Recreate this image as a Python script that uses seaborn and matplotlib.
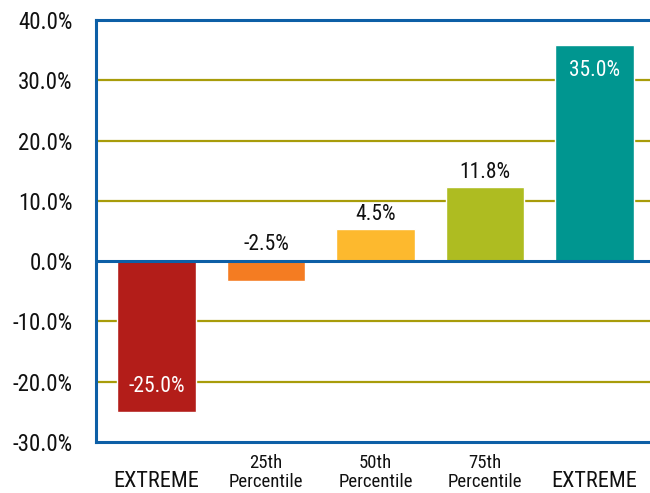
import matplotlib
matplotlib.use("Agg")
import matplotlib.pyplot as plt
import matplotlib.transforms as mtransforms
from matplotlib import font_manager
import seaborn as sns
import pandas as pd
from matplotlib.ticker import FuncFormatter

# ---- data ----
categories = ["EXTREME", "25th\nPercentile", "50th\nPercentile", "75th\nPercentile", "EXTREME"]
values = [-25.1, -3.3, 5.3, 12.3, 35.9]          # bar heights as drawn (%)
value_labels = ["-25.0%", "-2.5%", "4.5%", "11.8%", "35.0%"]
colors = ["#B31D19", "#F47C22", "#FDB92E", "#AEBC21", "#009690"]
y_ticks = [-30, -20, -10, 0, 10, 20, 30, 40]

sns.set_theme(style="white")
names = {f.name for f in font_manager.fontManager.ttflist}
fam = [n for n in ["Liberation Sans Narrow", "Roboto Condensed", "Roboto"] if n in names]
plt.rcParams["font.family"] = fam + ["DejaVu Sans"]

df = pd.DataFrame({"pos": list(range(len(values))), "value": values})

fig = plt.figure(figsize=(6.5, 4.93), dpi=100)
ax = fig.add_axes([96 / 650, 1 - 442 / 493, (650 - 96) / 650, (442 - 20) / 493])

sns.barplot(data=df, x="pos", y="value", hue="pos", palette=colors,
            legend=False, width=0.72, saturation=1, ax=ax, zorder=3)

grid_color = "#A89C0A"
blue = "#0D5FA6"
for t in y_ticks:
    if t in (-30, 40):
        continue
    if t == 0:
        ax.axhline(0, color=blue, lw=2.2, zorder=4)
    else:
        ax.axhline(t, color=grid_color, lw=1.6, zorder=1)

ax.set_ylim(-30, 40)
ax.set_xlim(-0.553, 4.507)
ax.set_yticks(y_ticks)
ax.yaxis.set_major_formatter(FuncFormatter(lambda v, p: f"{v:.1f}%"))
ax.tick_params(axis="y", length=0, pad=17, labelsize=16.5, labelcolor="#111111")
ax.set_xticks([])
ax.set_xlabel("")
ax.set_ylabel("")

for side in ("left", "top", "bottom"):
    ax.spines[side].set_color(blue)
    ax.spines[side].set_linewidth(2.2)
ax.spines["right"].set_visible(False)

# x category labels
trans = mtransforms.blended_transform_factory(ax.transData, ax.transAxes)
for i, cat in enumerate(categories):
    if "\n" in cat:
        ax.text(i, -0.106, cat, transform=trans, ha="center", va="baseline",
                fontsize=13.5, color="#111111", linespacing=1.05)
    else:
        ax.text(i, -0.106, cat, transform=trans, ha="center", va="baseline",
                fontsize=16, color="#111111")

# value labels
for i, (v, lab) in enumerate(zip(values, value_labels)):
    if i == 0:
        ax.annotate(lab, (i, v), xytext=(0, 14.5), textcoords="offset points",
                    ha="center", va="baseline", color="white", fontsize=15.5, zorder=5)
    elif i == len(values) - 1:
        ax.annotate(lab, (i, v), xytext=(0, -22.3), textcoords="offset points",
                    ha="center", va="baseline", color="white", fontsize=15.5, zorder=5)
    elif v < 0:
        ax.annotate(lab, (i, 0), xytext=(0, 8), textcoords="offset points",
                    ha="center", va="baseline", color="#111111", fontsize=15.5, zorder=5)
    else:
        ax.annotate(lab, (i, v), xytext=(0, 6.5), textcoords="offset points",
                    ha="center", va="baseline", color="#111111", fontsize=15.5, zorder=5)

fig.savefig("out.png", dpi=100)
